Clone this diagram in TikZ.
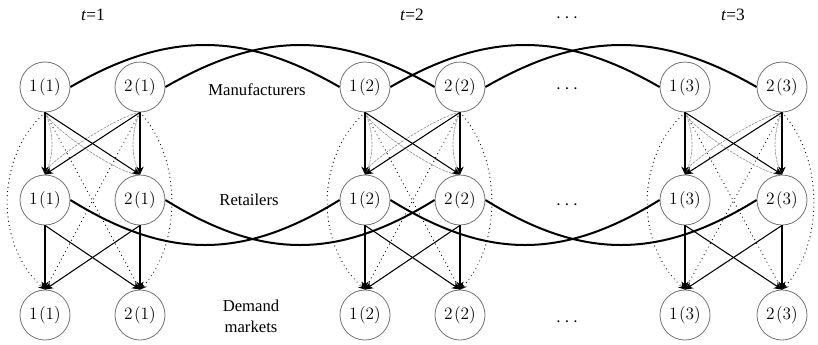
\documentclass[tikz,border=0pt]{standalone}
\usepackage{fontspec}
\newfontfamily\lblfont{Liberation Serif}
\usetikzlibrary{arrows.meta}
\begin{document}
\begin{tikzpicture}[x=0.75pt,y=-0.75pt,
  place/.style={circle,draw=black!55,line width=0.6pt,minimum size=37.5pt,inner sep=0pt,
                font=\fontsize{13}{15}\selectfont},
  tip/.style={-{Stealth[length=6pt,width=5.5pt]}},
  flow/.style={tip,line width=0.8pt,black},
  faint/.style={-{Stealth[length=5pt,width=4.5pt]},line width=0.45pt,black!45,dash pattern=on 2pt off 0.8pt},
  direct/.style={-{Stealth[length=5pt,width=4.5pt]},line width=0.9pt,dash pattern=on 0pt off 3.2pt,line cap=round},
  link/.style={line width=1.5pt,black},
  lbl/.style={font=\lblfont\fontsize{12.5}{15.5}\selectfont,align=center},
  tlbl/.style={font=\lblfont\fontsize{13}{15}\selectfont},
  ellip/.style={font=\fontsize{14}{16}\selectfont,inner sep=1pt}
]
\useasboundingbox (0,0) rectangle (818,344);

% three periods, two members per tier
\foreach \p/\xa/\xb in {1/45/140,2/365/460,3/685/782}{
  \node[place] (m1\p) at (\xa,87)  {1\kern1pt(\p)};
  \node[place] (m2\p) at (\xb,87)  {2\kern1pt(\p)};
  \node[place] (r1\p) at (\xa,200) {1\kern1pt(\p)};
  \node[place] (r2\p) at (\xb,200) {2\kern1pt(\p)};
  \node[place] (d1\p) at (\xa,315) {1\kern1pt(\p)};
  \node[place] (d2\p) at (\xb,315) {2\kern1pt(\p)};
}

% flows inside each period
\foreach \p in {1,2,3}{
  % manufacturers to demand markets, bypassing retailers
  \draw[direct] (m1\p.south) .. controls +(-50,45) and +(-50,-45) .. (d1\p.north);
  \draw[direct] (m2\p.south) .. controls +(42,45) and +(42,-45) .. (d2\p.north);
  \draw[direct] (m1\p.south) -- (d2\p.north);
  \draw[direct] (m2\p.south) -- (d1\p.north);
  % secondary manufacturer-retailer channels
  \draw[faint] (m1\p.south) .. controls +(9,20) and +(9,-20) .. (r1\p.north);
  \draw[faint] (m2\p.south) .. controls +(-9,20) and +(-9,-20) .. (r2\p.north);
  \draw[faint] (m1\p.south) .. controls +(5,15) and +(-25,-3) .. (r2\p.north);
  \draw[faint] (m2\p.south) .. controls +(-22,3) and +(5,-14) .. (r1\p.north);
  % manufacturers to retailers
  \draw[flow] (m1\p.south) -- (r1\p.north);
  \draw[flow] (m1\p.south) -- (r2\p.north);
  \draw[flow] (m2\p.south) -- (r1\p.north);
  \draw[flow] (m2\p.south) -- (r2\p.north);
  % retailers to demand markets
  \draw[flow] (r1\p.south) -- (d1\p.north);
  \draw[flow] (r1\p.south) -- (d2\p.north);
  \draw[flow] (r2\p.south) -- (d1\p.north);
  \draw[flow] (r2\p.south) -- (d2\p.north);
}

% links between consecutive periods
\foreach \p/\q in {1/2,2/3}{
  \draw[link] (m1\p.east) .. controls +(97,-56) and +(-97,-56) .. (m1\q.west);
  \draw[link] (m2\p.east) .. controls +(97,-56) and +(-97,-56) .. (m2\q.west);
  \draw[link] (r1\p.east) .. controls +(97,60) and +(-97,60) .. (r1\q.west);
  \draw[link] (r2\p.east) .. controls +(97,60) and +(-97,60) .. (r2\q.west);
}

% period headings
\node[tlbl] (t1) at (93,15)  {\textit{t}=1};
\node[tlbl] (t2) at (412,15) {\textit{t}=2};
\node[tlbl] (t3) at (733,15) {\textit{t}=3};

% tier names
\node[lbl] (lm) at (257,90)  {Manufacturers};
\node[lbl] (lr) at (249,200) {Retailers};
\node[lbl] (ld) at (251,316) {Demand\\markets};

% omitted periods
\node[ellip] (e0) at (567,18)  {$\cdots$};
\node[ellip] (e1) at (567,89)  {$\cdots$};
\node[ellip] (e2) at (567,205) {$\cdots$};
\node[ellip] (e3) at (567,322) {$\cdots$};
\end{tikzpicture}
\end{document}
